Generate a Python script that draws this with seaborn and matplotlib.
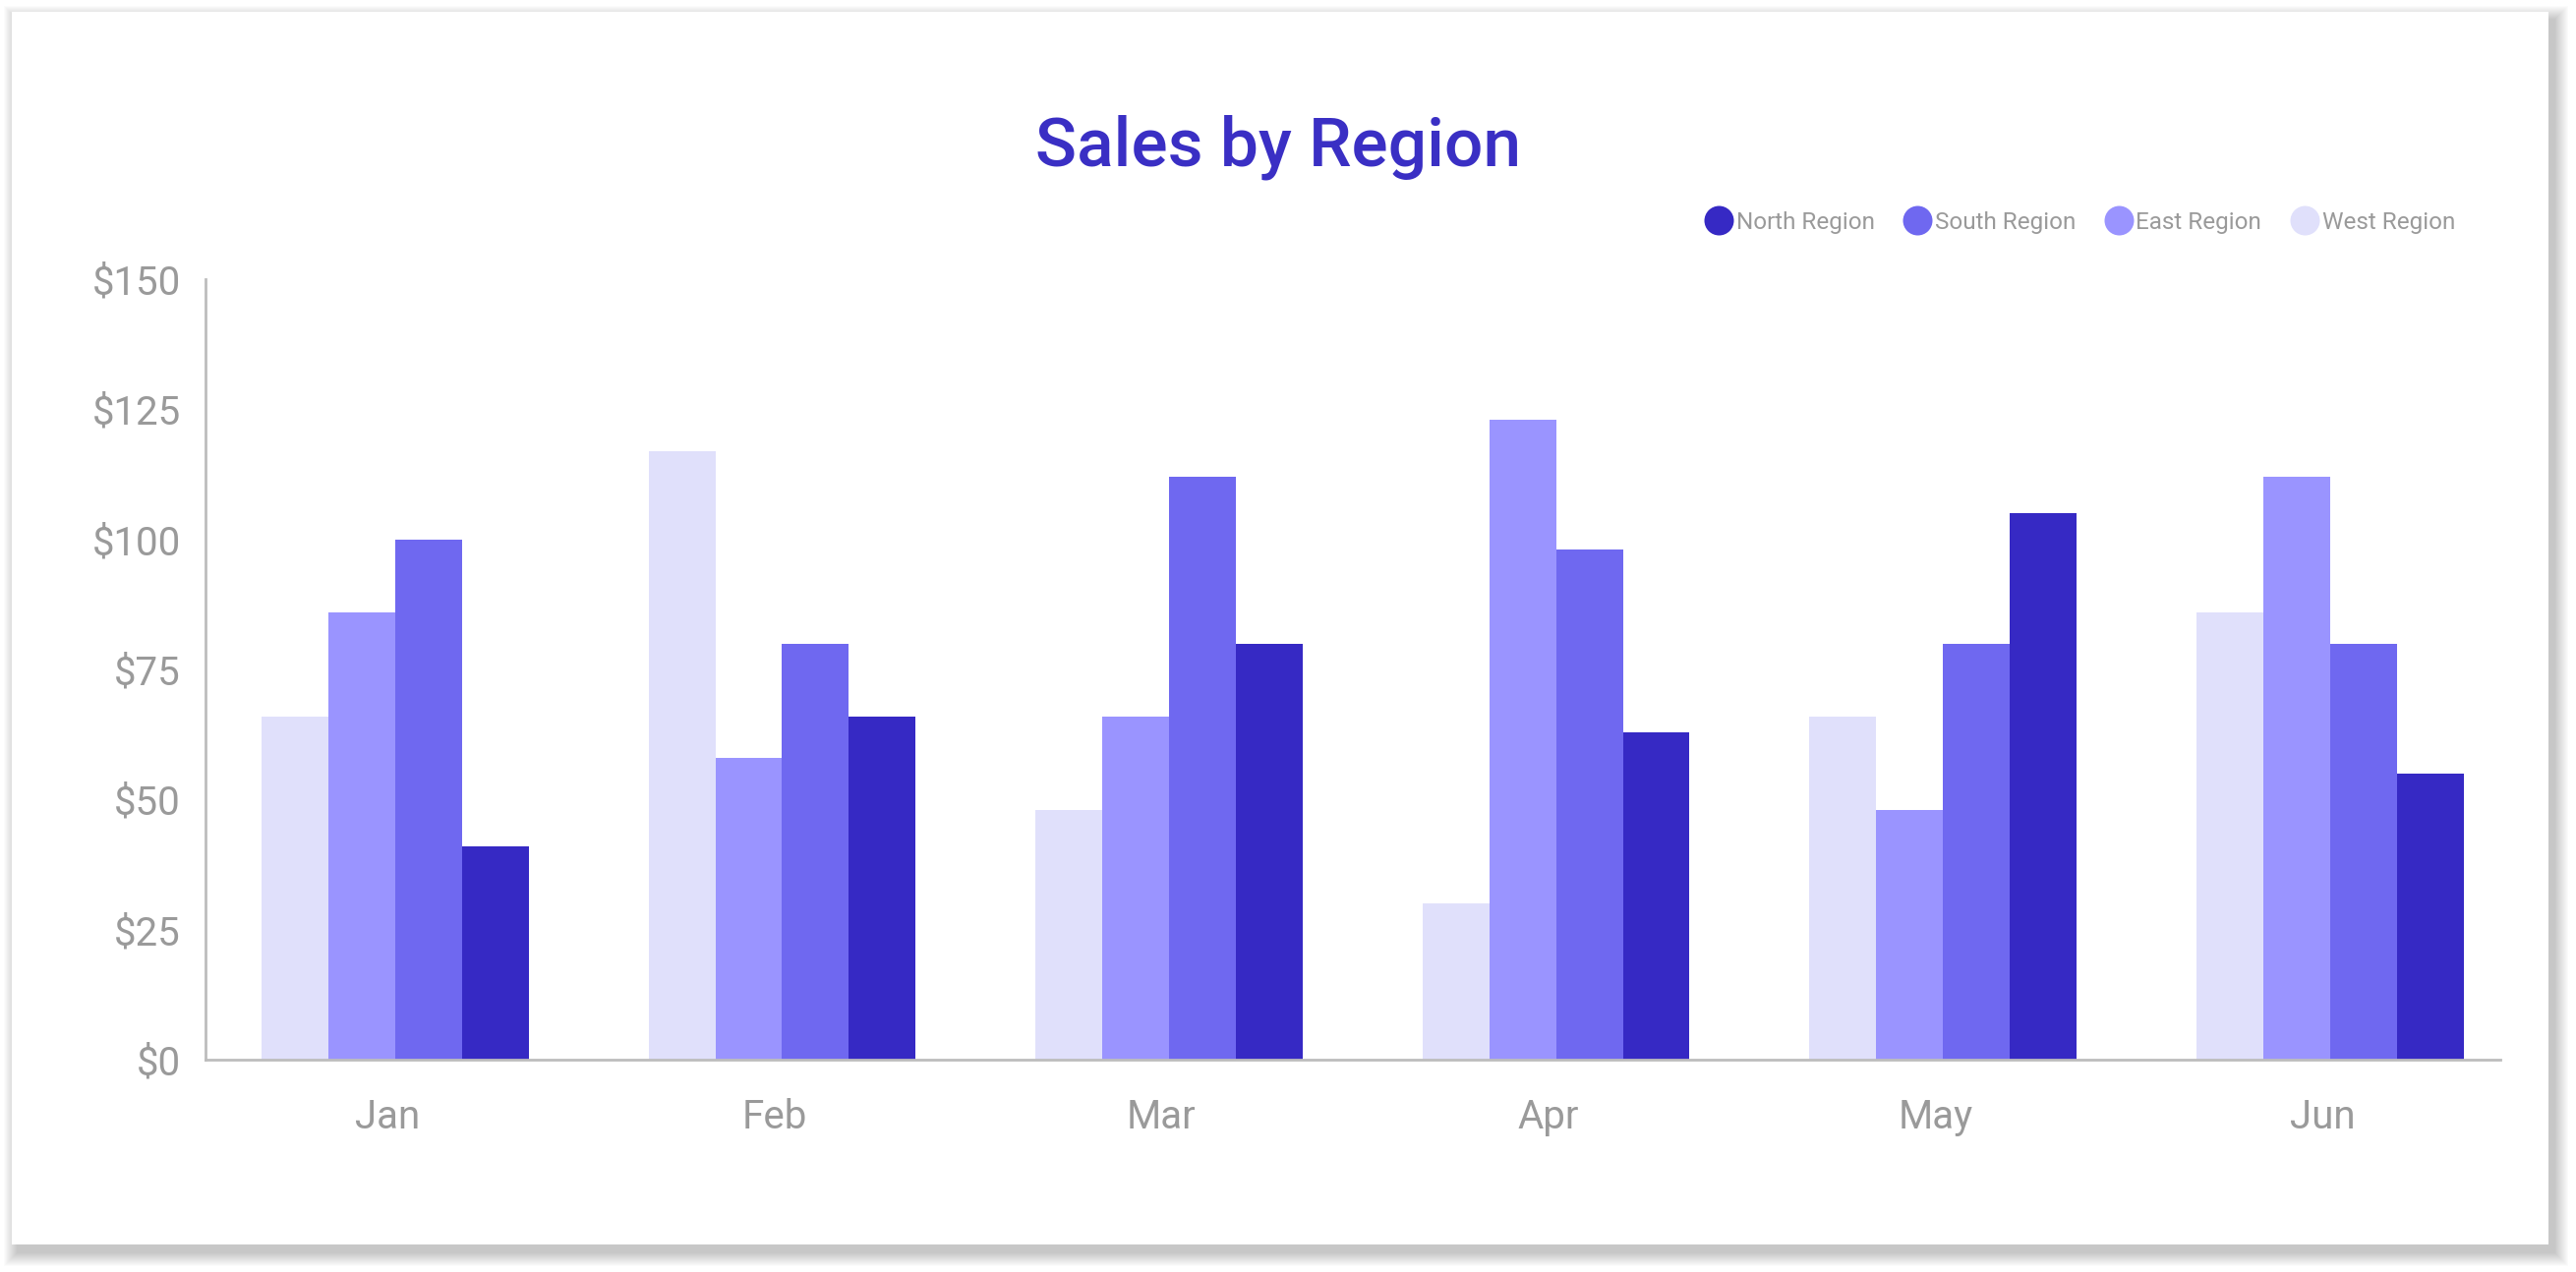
import pandas as pd
import matplotlib
matplotlib.use('Agg')
import matplotlib.pyplot as plt
import matplotlib.transforms as mtransforms
from matplotlib.lines import Line2D
from matplotlib.patches import Rectangle
import seaborn as sns

# Data
months = ["Jan", "Feb", "Mar", "Apr", "May", "Jun"]
north = [41, 66, 80, 63, 105, 55]
south = [100, 80, 112, 98, 80, 80]
east = [86, 58, 66, 123, 48, 112]
west = [66, 117, 48, 30, 66, 86]
y_ticks = [0, 25, 50, 75, 100, 125, 150]

regions = ["West Region", "East Region", "South Region", "North Region"]
colors = {"North Region": "#3629C4", "South Region": "#6F68F0",
          "East Region": "#9A94FF", "West Region": "#E0E0FB"}

rows = []
for name, vals in zip(regions, [west, east, south, north]):
    for m, v in zip(months, vals):
        rows.append({"month": m, "region": name, "sales": v})
df = pd.DataFrame(rows)

sns.set_style("white")
plt.rcParams['font.family'] = ['Roboto', 'DejaVu Sans']

W, H = 2620, 1294
fig = plt.figure(figsize=(W / 100, H / 100), dpi=100)
fig.patch.set_facecolor("white")

# card (pixel coords, origin bottom-left) with a soft drop shadow
cx0, cx1 = 12, 2592
cy0, cy1 = H - 1266, H - 12
for k in range(14, 0, -1):
    fig.patches.append(Rectangle((cx0 + 6 - k, cy0 - 8 - k), (cx1 - cx0) + 2 * k,
                                 (cy1 - cy0) + 2 * k, transform=None,
                                 facecolor="black", alpha=0.016, edgecolor="none",
                                 zorder=0))
fig.patches.append(Rectangle((cx0, cy0), cx1 - cx0, cy1 - cy0, transform=None,
                             facecolor="white", edgecolor="none", zorder=1))

ax = fig.add_axes([209 / W, 1 - 1078 / H, (2543 - 209) / W, (1078 - 284) / H])
ax.set_facecolor("none")
ax.set_zorder(2)

sns.barplot(data=df, x="month", y="sales", hue="region", hue_order=regions,
            order=months, palette=colors, width=0.69, gap=0, saturation=1,
            linewidth=0, edgecolor="none", legend=False, ax=ax)

ax.set_ylim(0, 150)
ax.set_xlim(-0.49, 5.44)
ax.set_yticks(y_ticks)
ax.set_yticklabels([f"${t}" for t in y_ticks])
ax.set_xlabel("")
ax.set_ylabel("")
ax.tick_params(axis="both", length=0, colors="#9A9A9A", labelsize=29)
ax.tick_params(axis="x", pad=28)
ax.tick_params(axis="y", pad=18)
for s in ["top", "right"]:
    ax.spines[s].set_visible(False)
for s in ["left", "bottom"]:
    ax.spines[s].set_color("#BDBDBD")
    ax.spines[s].set_linewidth(2)

# month labels sit a touch left of the bar groups in the reference
shift = mtransforms.ScaledTranslation(-8 / 100, 0, fig.dpi_scale_trans)
for lbl in ax.get_xticklabels():
    lbl.set_transform(lbl.get_transform() + shift)

fig.text(1300 / W, 1 - 150 / H, "Sales by Region", ha="center", va="center",
         fontsize=50, fontweight="medium", color="#3A2FC4", zorder=3)

legend_order = ["North Region", "South Region", "East Region", "West Region"]
handles = [Line2D([0], [0], marker="o", linestyle="none", markersize=21.6,
                  markerfacecolor=colors[r], markeredgecolor="none") for r in legend_order]
leg = fig.legend(handles, legend_order, loc="center right",
                 bbox_to_anchor=(2497 / W, 1 - 226 / H), ncol=4, frameon=False,
                 fontsize=17.5, handletextpad=0.12, columnspacing=1.2,
                 handlelength=1.2, borderpad=0, borderaxespad=0)
for t in leg.get_texts():
    t.set_color("#9A9A9A")

fig.savefig("out.png", dpi=100, facecolor="white")
